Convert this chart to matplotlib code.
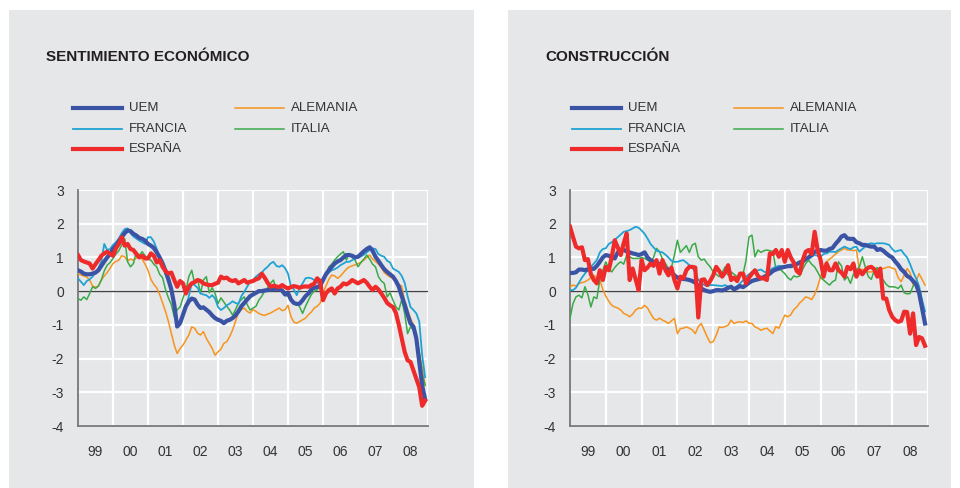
import matplotlib
matplotlib.use("Agg")
import numpy as np
import matplotlib.pyplot as plt
from matplotlib.lines import Line2D
from matplotlib.patches import Rectangle

plt.rcParams["font.family"] = ["Liberation Sans", "DejaVu Sans"]
plt.rcParams["axes.unicode_minus"] = False

# monthly values, Jan 1999 - Dec 2008
year_labels = ["99", "00", "01", "02", "03", "04", "05", "06", "07", "08"]

sent_uem = [
    0.62, 0.58, 0.52, 0.50, 0.50, 0.52, 0.55, 0.62, 0.75, 0.88, 1.00, 1.10,
    1.25, 1.35, 1.48, 1.60, 1.72, 1.80, 1.78, 1.70, 1.65, 1.58, 1.55, 1.50,
    1.40, 1.35, 1.28, 1.15, 1.00, 0.82, 0.60, 0.35, 0.05, -0.40, -1.05, -0.95,
    -0.70, -0.45, -0.30, -0.22, -0.25, -0.40, -0.50, -0.48, -0.55, -0.62, -0.72, -0.80,
    -0.85, -0.88, -0.95, -0.88, -0.85, -0.80, -0.72, -0.60, -0.45, -0.35, -0.25, -0.15,
    -0.10, -0.05, 0.00, 0.00, 0.02, 0.03, 0.05, 0.05, 0.08, 0.05, 0.02, -0.10,
    -0.05, -0.25, -0.35, -0.38, -0.37, -0.27, -0.15, -0.07, 0.05, 0.10, 0.12, 0.15,
    0.33, 0.50, 0.62, 0.72, 0.82, 0.88, 0.92, 1.00, 1.07, 1.07, 1.05, 1.00,
    1.02, 1.10, 1.18, 1.25, 1.30, 1.20, 1.02, 0.90, 0.77, 0.65, 0.57, 0.50,
    0.43, 0.30, 0.13, -0.15, -0.40, -0.70, -0.96, -1.05, -1.40, -2.10, -2.80, -3.20,
]
sent_alemania = [
    0.52, 0.48, 0.45, 0.42, 0.33, 0.15, 0.12, 0.15, 0.33, 0.45, 0.55, 0.68,
    0.82, 0.88, 0.92, 1.05, 1.02, 0.90, 0.95, 0.92, 0.98, 1.02, 0.95, 0.80,
    0.62, 0.35, 0.20, 0.10, -0.10, -0.35, -0.60, -0.90, -1.25, -1.60, -1.85, -1.70,
    -1.60, -1.45, -1.30, -1.06, -1.10, -1.25, -1.30, -1.20, -1.40, -1.55, -1.70, -1.90,
    -1.80, -1.72, -1.55, -1.50, -1.35, -1.15, -0.90, -0.62, -0.55, -0.50, -0.60, -0.65,
    -0.55, -0.60, -0.66, -0.70, -0.72, -0.68, -0.65, -0.60, -0.55, -0.50, -0.58, -0.55,
    -0.42, -0.75, -0.92, -0.95, -0.90, -0.85, -0.80, -0.70, -0.62, -0.50, -0.45, -0.36,
    -0.07, 0.15, 0.35, 0.48, 0.45, 0.38, 0.45, 0.55, 0.65, 0.72, 0.75, 0.78,
    0.82, 0.85, 0.92, 1.00, 1.07, 0.95, 0.88, 0.80, 0.70, 0.55, 0.48, 0.42,
    0.38, 0.30, 0.20, 0.15, -0.30, -0.55, -0.80, -1.00, -1.35, -1.80, -2.25, -2.80,
]
sent_francia = [
    0.38, 0.28, 0.18, 0.30, 0.35, 0.43, 0.55, 0.68, 0.88, 1.40, 1.22, 1.25,
    1.37, 1.45, 1.56, 1.72, 1.84, 1.86, 1.72, 1.62, 1.56, 1.50, 1.45, 1.40,
    1.60, 1.60, 1.47, 1.25, 1.00, 0.75, 0.50, 0.25, 0.03, -0.40, -1.06, -0.90,
    -0.66, -0.47, -0.15, 0.23, 0.18, 0.10, -0.07, -0.10, -0.12, -0.20, -0.12, -0.22,
    -0.47, -0.56, -0.50, -0.42, -0.37, -0.30, -0.35, -0.38, -0.15, -0.02, 0.13, 0.28,
    0.33, 0.43, 0.50, 0.55, 0.65, 0.72, 0.82, 0.87, 0.75, 0.72, 0.77, 0.68,
    0.52, 0.15, 0.05, -0.12, 0.10, 0.23, 0.38, 0.40, 0.38, 0.33, 0.30, 0.13,
    0.33, 0.45, 0.55, 0.62, 0.65, 0.70, 0.77, 0.82, 0.87, 0.87, 0.92, 0.97,
    1.00, 1.03, 1.08, 1.15, 1.22, 1.27, 1.25, 1.10, 1.05, 1.02, 0.90, 0.85,
    0.67, 0.62, 0.57, 0.45, 0.25, -0.15, -0.47, -0.56, -0.66, -0.90, -1.90, -2.55,
]
sent_italia = [
    -0.22, -0.27, -0.17, -0.25, -0.07, 0.13, 0.08, 0.15, 0.33, 0.60, 0.77, 0.85,
    0.97, 1.10, 1.20, 1.37, 1.56, 0.87, 0.72, 0.82, 1.17, 1.05, 1.17, 1.05,
    0.95, 0.92, 0.80, 0.72, 0.50, 0.40, 0.05, -0.20, -0.40, -0.76, -0.55, -0.47,
    -0.20, 0.03, 0.43, 0.62, 0.23, 0.35, -0.07, 0.33, 0.43, -0.05, 0.10, -0.07,
    -0.37, -0.20, -0.32, -0.45, -0.56, -0.71, -0.55, -0.35, -0.25, -0.17, -0.40, -0.56,
    -0.50, -0.45, -0.27, -0.15, 0.00, 0.10, 0.23, 0.33, 0.05, 0.10, -0.05, -0.12,
    -0.15, -0.27, -0.35, -0.37, -0.47, -0.66, -0.45, -0.27, -0.10, 0.00, 0.03, 0.20,
    0.30, 0.45, 0.72, 0.80, 0.92, 1.02, 1.10, 1.17, 0.92, 1.12, 1.00, 0.92,
    0.72, 0.85, 0.95, 1.07, 0.95, 0.80, 0.72, 0.43, 0.30, 0.23, -0.17, -0.05,
    -0.27, -0.47, -0.56, -0.25, -0.66, -1.26, -1.06, -1.15, -1.36, -1.85, -2.45, -2.79,
]
sent_espana = [
    1.07, 0.92, 0.88, 0.85, 0.82, 0.67, 0.80, 0.92, 1.05, 1.12, 1.17, 1.10,
    1.05, 1.27, 1.40, 1.60, 1.35, 1.40, 1.25, 1.22, 1.10, 1.00, 1.05, 0.97,
    0.97, 1.12, 1.05, 0.85, 0.92, 0.72, 0.60, 0.52, 0.55, 0.33, 0.13, 0.30,
    0.23, -0.07, 0.13, 0.23, 0.27, 0.33, 0.30, 0.23, 0.20, 0.18, 0.18, 0.22,
    0.25, 0.43, 0.38, 0.40, 0.33, 0.30, 0.33, 0.23, 0.28, 0.33, 0.25, 0.28,
    0.30, 0.35, 0.38, 0.52, 0.40, 0.25, 0.13, 0.16, 0.14, 0.12, 0.18, 0.12,
    0.08, 0.12, 0.15, 0.13, 0.10, 0.13, 0.14, 0.13, 0.18, 0.22, 0.38, 0.30,
    -0.27, -0.07, 0.03, 0.08, -0.07, 0.08, 0.13, 0.23, 0.20, 0.25, 0.33, 0.28,
    0.23, 0.28, 0.33, 0.25, 0.13, 0.03, 0.13, 0.05, -0.07, -0.20, -0.35, -0.42,
    -0.47, -0.65, -1.00, -1.40, -1.80, -2.05, -2.10, -2.35, -2.60, -2.85, -3.40, -3.25,
]

cons_uem = [
    0.54, 0.54, 0.56, 0.64, 0.64, 0.62, 0.65, 0.67, 0.66, 0.75, 0.87, 1.00,
    1.07, 1.05, 1.00, 0.97, 1.15, 1.20, 1.22, 1.18, 1.15, 1.12, 1.10, 1.07,
    1.10, 1.15, 1.00, 0.92, 0.87, 0.85, 0.80, 0.75, 0.68, 0.62, 0.55, 0.47,
    0.40, 0.38, 0.36, 0.35, 0.33, 0.30, 0.25, 0.15, 0.08, 0.03, 0.00, -0.02,
    0.00, 0.03, 0.03, 0.02, 0.05, 0.10, 0.13, 0.05, 0.10, 0.15, 0.12, 0.18,
    0.25, 0.30, 0.33, 0.35, 0.38, 0.42, 0.47, 0.52, 0.60, 0.64, 0.67, 0.70,
    0.72, 0.74, 0.75, 0.77, 0.80, 0.85, 0.88, 0.95, 1.00, 1.08, 1.17, 1.18,
    1.22, 1.20, 1.20, 1.25, 1.28, 1.40, 1.50, 1.62, 1.66, 1.56, 1.55, 1.55,
    1.45, 1.42, 1.37, 1.37, 1.34, 1.32, 1.32, 1.22, 1.25, 1.20, 1.12, 1.05,
    1.00, 0.88, 0.78, 0.65, 0.57, 0.45, 0.40, 0.30, 0.20, -0.05, -0.50, -0.96,
]
cons_alemania = [
    0.13, 0.18, 0.15, 0.23, 0.25, 0.28, 0.33, 0.40, 0.47, 0.38, 0.33, 0.05,
    -0.15, -0.30, -0.42, -0.47, -0.50, -0.56, -0.66, -0.70, -0.76, -0.68, -0.56, -0.50,
    -0.51, -0.42, -0.50, -0.66, -0.81, -0.86, -0.80, -0.86, -0.90, -0.96, -0.88, -0.81,
    -1.26, -1.11, -1.10, -1.06, -1.10, -1.15, -1.26, -1.05, -0.96, -1.16, -1.36, -1.53,
    -1.50, -1.31, -1.06, -1.08, -1.05, -1.01, -0.86, -0.96, -0.92, -0.91, -0.93, -0.88,
    -0.95, -0.96, -1.06, -1.10, -1.16, -1.12, -1.10, -1.18, -1.26, -1.05, -1.10, -0.91,
    -0.71, -0.76, -0.70, -0.55, -0.47, -0.35, -0.27, -0.17, -0.20, -0.25, -0.10, 0.13,
    0.43, 0.72, 0.87, 0.95, 1.02, 1.10, 1.17, 1.22, 1.27, 1.22, 1.22, 1.20,
    1.22, 0.62, 0.65, 0.60, 0.57, 0.57, 0.60, 0.65, 0.67, 0.67, 0.70, 0.72,
    0.68, 0.65, 0.40, 0.28, 0.47, 0.67, 0.55, 0.18, 0.30, 0.52, 0.35, 0.18,
]
cons_francia = [
    0.03, 0.03, 0.10, 0.25, 0.40, 0.52, 0.62, 0.72, 0.82, 0.92, 1.15, 1.25,
    1.27, 1.40, 1.45, 1.52, 1.60, 1.68, 1.76, 1.78, 1.81, 1.86, 1.91, 1.88,
    1.80, 1.70, 1.56, 1.40, 1.30, 1.20, 1.17, 1.15, 1.08, 1.00, 0.90, 0.87,
    0.87, 0.90, 0.92, 0.85, 0.77, 0.70, 0.55, 0.33, 0.25, 0.18, 0.15, 0.18,
    0.18, 0.17, 0.16, 0.15, 0.18, 0.13, 0.12, 0.10, 0.15, 0.23, 0.32, 0.43,
    0.50, 0.57, 0.58, 0.62, 0.64, 0.58, 0.55, 0.62, 0.68, 0.72, 0.75, 0.74,
    0.72, 0.72, 0.70, 0.75, 0.82, 0.88, 0.92, 0.95, 0.97, 1.02, 1.07, 1.05,
    1.02, 1.10, 1.12, 1.17, 1.17, 1.16, 1.22, 1.27, 1.32, 1.28, 1.24, 1.30,
    1.32, 1.17, 1.25, 1.32, 1.40, 1.42, 1.40, 1.42, 1.42, 1.42, 1.40, 1.37,
    1.25, 1.17, 1.20, 1.22, 1.10, 1.00, 0.80, 0.57, 0.38, 0.15, -0.25, -0.60,
]
cons_italia = [
    -0.81, -0.37, -0.17, -0.12, -0.20, 0.13, -0.10, -0.47, -0.17, -0.22, 0.33, 0.62,
    0.87, 0.67, 0.57, 0.70, 0.80, 0.87, 0.80, 1.07, 1.02, 0.97, 0.97, 0.97,
    1.00, 0.97, 0.92, 0.87, 1.00, 1.27, 1.17, 0.95, 0.82, 0.67, 0.70, 1.07,
    1.51, 1.15, 1.25, 1.35, 1.15, 1.37, 1.42, 1.02, 0.92, 0.95, 0.82, 0.72,
    0.57, 0.50, 0.43, 0.55, 0.72, 0.47, 0.57, 0.50, 0.43, 0.48, 0.50, 0.92,
    1.61, 1.66, 1.02, 1.22, 1.15, 1.20, 1.22, 1.20, 1.18, 0.67, 0.70, 0.60,
    0.52, 0.40, 0.33, 0.45, 0.42, 0.45, 0.65, 0.82, 0.92, 0.80, 0.72, 0.57,
    0.40, 0.33, 0.25, 0.18, 0.28, 0.33, 0.87, 0.75, 0.33, 0.43, 0.23, 0.50,
    0.62, 0.72, 1.02, 0.70, 0.43, 0.35, 0.62, 0.70, 0.40, 0.33, 0.20, 0.13,
    0.13, 0.12, 0.08, 0.18, -0.05, -0.08, -0.07, 0.15, 0.23, 0.05, -0.47, -0.95,
]
cons_espana = [
    1.91, 1.61, 1.32, 1.27, 1.30, 0.92, 0.95, 0.50, 0.33, 0.23, 0.62, 0.33,
    0.72, 0.62, 1.02, 1.51, 1.30, 1.07, 1.42, 1.71, 0.33, 0.67, 0.35, 0.03,
    0.92, 0.62, 0.70, 0.82, 0.75, 0.92, 0.52, 0.92, 0.62, 0.47, 0.70, 0.33,
    0.08, 0.43, 0.38, 0.62, 0.72, 0.72, 0.70, -0.78, 0.33, 0.35, 0.18, 0.30,
    0.47, 0.72, 0.60, 0.43, 0.55, 0.77, 0.33, 0.40, 0.30, 0.52, 0.52, 0.23,
    0.40, 0.52, 0.62, 0.45, 0.38, 0.38, 0.33, 1.12, 1.10, 1.22, 1.02, 1.22,
    0.87, 1.22, 1.00, 0.85, 0.60, 0.52, 0.92, 1.17, 1.22, 1.10, 1.76, 1.22,
    0.92, 0.43, 0.82, 0.62, 0.62, 0.82, 0.62, 0.55, 0.43, 0.72, 0.65, 0.82,
    0.43, 0.62, 0.50, 0.62, 0.70, 0.72, 0.65, 0.43, 0.67, -0.22, -0.22, -0.56,
    -0.76, -0.86, -0.91, -0.88, -0.61, -0.62, -1.26, -0.66, -1.60, -1.36, -1.40, -1.62,
]

names = ["UEM", "ALEMANIA", "FRANCIA", "ITALIA", "ESPAÑA"]
colors = {"UEM": "#3a53a4", "ALEMANIA": "#f7941d", "FRANCIA": "#1fa3d4",
          "ITALIA": "#3aaa49", "ESPAÑA": "#ee2a2a"}
widths = {"UEM": 3.0, "ALEMANIA": 1.1, "FRANCIA": 1.3, "ITALIA": 1.1, "ESPAÑA": 3.0}
draw_order = ["ALEMANIA", "ITALIA", "FRANCIA", "UEM", "ESPAÑA"]

panels = [
    ("SENTIMIENTO ECONÓMICO",
     {"UEM": sent_uem, "ALEMANIA": sent_alemania, "FRANCIA": sent_francia,
      "ITALIA": sent_italia, "ESPAÑA": sent_espana}),
    ("CONSTRUCCIÓN",
     {"UEM": cons_uem, "ALEMANIA": cons_alemania, "FRANCIA": cons_francia,
      "ITALIA": cons_italia, "ESPAÑA": cons_espana}),
]

W, H = 960, 488
grey = "#e6e7e8"
text_col = "#333333"
fig = plt.figure(figsize=(W / 100, H / 100), dpi=100)
fig.patch.set_facecolor("white")

# panel boxes and axes positions in pixels
boxes = [(9, 10, 474, 488), (508, 10, 951, 488)]
axes_px = [(78, 190, 428, 426), (570, 190, 928, 426)]

for (title, data), box, apx in zip(panels, boxes, axes_px):
    x0, y0, x1, y1 = box
    fig.patches.append(Rectangle((x0 / W, 1 - y1 / H), (x1 - x0) / W, (y1 - y0) / H,
                                 transform=fig.transFigure, facecolor=grey,
                                 edgecolor="none", zorder=-5))
    ax = fig.add_axes([apx[0] / W, 1 - apx[3] / H, (apx[2] - apx[0]) / W,
                       (apx[3] - apx[1]) / H])
    ax.set_zorder(1)
    ax.set_facecolor("none")
    months = np.arange(len(data["UEM"]))
    lines = {}
    for n in draw_order:
        (ln,) = ax.plot(months, data[n], color=colors[n], lw=widths[n],
                        solid_joinstyle="round", zorder=3)
        lines[n] = ln
    ax.set_xlim(0, 120)
    ax.set_ylim(-4, 3)
    ax.set_yticks(range(-4, 4))
    ax.set_xticks(np.arange(12, 121, 12))
    ax.set_xticks(np.arange(6, 120, 12), minor=True)
    ax.set_xticklabels([])
    ax.set_xticklabels(year_labels, minor=True)
    ax.grid(True, which="major", color="white", lw=1.6, zorder=1)
    ax.tick_params(which="both", length=0, labelsize=10, labelcolor=text_col)
    ax.tick_params(axis="y", pad=10)
    ax.tick_params(axis="x", which="minor", pad=14)
    ax.axhline(0, color="#444444", lw=1.0, zorder=2)
    for s in ["top", "right"]:
        ax.spines[s].set_visible(False)
    for s in ["left", "bottom"]:
        ax.spines[s].set_color("#77787b")
        ax.spines[s].set_linewidth(1.3)
    ax.set_axisbelow(True)

    # title
    fig.text((x0 + 37) / W, 1 - 57 / H, title, fontsize=11, fontweight="bold",
             color="#231f20", va="center", ha="left")

    # legend
    rows = [("UEM", 0, 0), ("FRANCIA", 0, 1), ("ESPAÑA", 0, 2),
            ("ALEMANIA", 1, 0), ("ITALIA", 1, 1)]
    for n, col, row in rows:
        lx = x0 + 64 + col * 162
        ly = 1 - (108 + row * 20.5) / H
        fig.add_artist(Line2D([lx / W, (lx + 49) / W], [ly, ly],
                              color=colors[n], lw=lines[n].get_linewidth(),
                              transform=fig.transFigure))
        fig.text((lx + 56) / W, ly, n, fontsize=9.5, color=text_col,
                 va="center", ha="left")

fig.savefig("out.png", dpi=100)
